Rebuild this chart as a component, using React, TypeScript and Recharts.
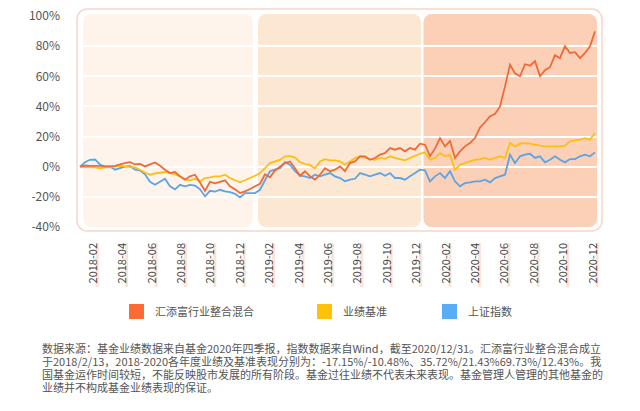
import React from "react";
import { LineChart, Line, XAxis, YAxis, ReferenceArea } from "recharts";

// weekly-ish samples, 2018-02-13 .. 2020-12-31 (104 points)
const fundValues = [
  0, 0.8, 0.5, 0.5, 0.5, 0.3, 0.2, 0.5, 1.5, 2.4, 3.0, 1.5, 1.8, 0.2, 1.5, 2.8,
  0.6, -2, -4.2, -3.5, -6.4, -8.6, -6.4, -5.3, -10.5, -16, -10, -11, -10, -9,
  -13, -15, -17.5, -16.4, -14.8, -13, -11.3, -5, -7, -2.5, 0, 2.4, 3.5, -1, -6,
  -3, -6.4, -8.6, -5.3, -1, -3, -2, 0.2, -3, 2.4, 3.5, 6.9, 6.9, 4.6, 5.8, 8, 9,
  12.4, 11.3, 12.4, 10.2, 12.4, 11.3, 15.3, 14.6, 7, 12, 19, 13.5, 17, 5.8,
  10.2, 13.5, 15.7, 19, 26, 29.5, 33.5, 35, 40, 53.3, 67.7, 62, 60, 68, 67, 70,
  60, 64, 66, 74, 72, 80, 75.5, 76, 72.1, 75.5, 79.9, 89.8,
];

const benchValues = [
  0, -0.2, -0.3, -0.5, -1, -0.5, -0.3, 0.2, 0.5, 0.2, -0.2, -0.5, -2, -4, -5.3,
  -4.5, -4, -3.5, -4.2, -5, -6.4, -8.6, -9, -8, -9.7, -7.5, -7, -6.4, -6.4,
  -5.3, -7.5, -9, -10.2, -9, -7.5, -6, -4.2, -1, 2.4, 3.5, 4.5, 6.9, 7, 6, 3,
  1.8, 1, -1, 3.5, 5, 4.2, 4.2, 3.5, 1.3, 3.5, 5.8, 6.9, 5.8, 5.1, 4.6, 5.8,
  5.2, 6.9, 5.8, 5.1, 4.2, 5.8, 7.3, 8.6, 9.5, 4.6, 5.8, 9, 6.9, 8, -2, 1.3,
  2.4, 3.5, 4.6, 5.1, 5.8, 4.6, 5.8, 6.9, 5.8, 15.7, 13.5, 15.3, 15.7, 15.3,
  14.6, 14, 13.5, 13.5, 13.5, 13.5, 14, 16.8, 17.5, 18, 19, 18, 22.4,
];

const indexValues = [
  0, 3, 4.6, 4.8, 1.5, 0, 0.2, -2, -1, 0, 0.5, -2, -2.5, -5, -10, -12, -10, -8,
  -13, -15, -12, -13, -12, -12.5, -15, -19.7, -16, -16.5, -15.3, -16.4, -16.8,
  -18, -20.4, -17.5, -17.5, -17.5, -15.3, -9, -3, -2, -1, 3, 1.3, -3, -6,
  -6.4, -7.5, -5.3, -6.4, -5.3, -4.2, -6.4, -7.5, -9.7, -8.6, -8, -4.2, -5.3,
  -6.4, -5.3, -4.2, -6, -4.2, -7.5, -7.5, -8.6, -6.4, -4.2, -2, -2.4, -9.7,
  -6.4, -4.2, -7.5, -3, -9.7, -13, -10.8, -10.4, -9.7, -9.7, -8.6, -10.4, -7.5,
  -6.4, -5.3, 8, 2.4, 6.9, 8, 8.6, 5.8, 6.9, 2.9, 4.6, 6.9, 4.6, 2.9, 5.1, 5.1,
  6.9, 8, 6.9, 9.5,
];

const monthLabels = [
  "2018-02", "2018-04", "2018-06", "2018-08", "2018-10", "2018-12",
  "2019-02", "2019-04", "2019-06", "2019-08", "2019-10", "2019-12",
  "2020-02", "2020-04", "2020-06", "2020-08", "2020-10", "2020-12",
];

const yTicks = [-40, -20, 0, 20, 40, 60, 80, 100];
const gridValues = [-20, 0, 20, 40, 60, 80];

// year panels in sample-index units
const BAND_TOP = 101.3;
const BAND_BOTTOM = -40;
const yearBands = [
  { x1: 0.6, x2: 34.6, fill: "#fef4ec" },
  { x1: 35.6, x2: 68.2, fill: "#fce7d3" },
  { x1: 68.7, x2: 103.4, fill: "#fbd0b7" },
];

const seriesNames = ["汇添富行业整合混合", "业绩基准", "上证指数"];
const lineColors = ["#ef6a3b", "#fbbf15", "#5ba4e5"];
const legendColors = ["#fd6a35", "#fec20c", "#5aacf5"];

const footnote = [
  "数据来源：基金业绩数据来自基金2020年四季报，指数数据来自Wind，截至2020/12/31。汇添富行业整合混合成立",
  "于2018/2/13，2018-2020各年度业绩及基准表现分别为：-17.15%/-10.48%、35.72%/21.43%69.73%/12.43%。我",
  "国基金运作时间较短，不能反映股市发展的所有阶段。基金过往业绩不代表未来表现。基金管理人管理的其他基金的",
  "业绩并不构成基金业绩表现的保证。",
];

const data = fundValues.map((v, i) => ({
  i,
  fund: v,
  bench: benchValues[i],
  index: indexValues[i],
}));

const tickPos = monthLabels.map((_, k) => 2.54 + k * 5.88);

const FONT = '"Noto Sans CJK SC", "Noto Sans", sans-serif';

function XTick(props: any) {
  const { x, y, payload } = props;
  const k = tickPos.findIndex((t) => Math.abs(t - payload.value) < 0.01);
  return (
    <g transform={`translate(${x},${y})`}>
      <rect x={3} y={0} width={3} height={44} fill="#fde3d6" />
      <text
        transform="rotate(-90)"
        textAnchor="end"
        dy={4}
        fontSize={11}
        fill="#444"
        fontFamily={FONT}
      >
        {monthLabels[k]}
      </text>
    </g>
  );
}

const outerShape = (p: any) => (
  <rect
    x={p.x}
    y={p.y}
    width={p.width}
    height={p.height}
    rx={10}
    fill="#fff"
    stroke="#f7d6c9"
    strokeWidth={1.5}
  />
);

// year panel with the white grid lines drawn on top of it
const bandShape = (fill: string) => (p: any) => {
  const perUnit = p.height / (BAND_TOP - BAND_BOTTOM);
  return (
    <g>
      <rect x={p.x} y={p.y} width={p.width} height={p.height} rx={8} fill={fill} />
      {gridValues.map((v) => {
        const gy = Math.round(p.y + (BAND_TOP - v) * perUnit);
        return (
          <line
            key={v}
            x1={p.x}
            x2={p.x + p.width}
            y1={gy}
            y2={gy}
            stroke="#ffffff"
            strokeWidth={2}
          />
        );
      })}
    </g>
  );
};

export default function App() {
  return (
    <div
      style={{
        position: "absolute",
        left: 0,
        top: 0,
        width: 640,
        height: 411,
        background: "#fff",
        fontFamily: FONT,
        overflow: "hidden",
      }}
    >
      <LineChart
        width={640}
        height={300}
        data={data}
        margin={{ top: 9, right: 38, bottom: 0, left: 0 }}
      >
        <XAxis
          type="number"
          dataKey="i"
          domain={[-0.6, 104.4]}
          ticks={tickPos}
          interval={0}
          axisLine={false}
          tickLine={false}
          tickSize={6}
          tickMargin={6}
          height={69}
          tick={<XTick />}
        />
        <YAxis
          type="number"
          domain={[-42.65, 104.64]}
          ticks={yTicks}
          interval={0}
          allowDataOverflow
          axisLine={false}
          tickLine={false}
          tickSize={6}
          tickMargin={11}
          width={77}
          tickFormatter={(v) => `${v}%`}
          tick={{ fontSize: 12, fill: "#555", fontFamily: FONT }}
        />
        <ReferenceArea
          x1={-0.6}
          x2={104.4}
          y1={-42.65}
          y2={104.64}
          ifOverflow="visible"
          shape={outerShape}
        />
        {yearBands.map((b, k) => (
          <ReferenceArea
            key={k}
            x1={b.x1}
            x2={b.x2}
            y1={BAND_BOTTOM}
            y2={BAND_TOP}
            ifOverflow="visible"
            shape={bandShape(b.fill)}
          />
        ))}
        <Line
          dataKey="index"
          stroke={lineColors[2]}
          strokeWidth={1.8}
          dot={false}
          isAnimationActive={false}
        />
        <Line
          dataKey="bench"
          stroke={lineColors[1]}
          strokeWidth={1.8}
          dot={false}
          isAnimationActive={false}
        />
        <Line
          dataKey="fund"
          stroke={lineColors[0]}
          strokeWidth={1.8}
          dot={false}
          isAnimationActive={false}
        />
      </LineChart>

      {/* legend */}
      {seriesNames.map((name, k) => {
        const left = [129, 317, 442][k];
        return (
          <div key={name}>
            <div
              style={{
                position: "absolute",
                left,
                top: 304,
                width: 15,
                height: 15,
                background: legendColors[k],
              }}
            />
            <div
              style={{
                position: "absolute",
                left: left + 26,
                top: 303,
                fontSize: 11,
                lineHeight: "17px",
                color: "#555",
                whiteSpace: "nowrap",
              }}
            >
              {name}
            </div>
          </div>
        );
      })}

      <div
        style={{
          position: "absolute",
          left: 42,
          top: 342,
          fontSize: 11,
          lineHeight: "13px",
          color: "#555",
        }}
      >
        {footnote.map((line, k) => (
          <div key={k} style={{ whiteSpace: "nowrap", height: 13 }}>
            {line}
          </div>
        ))}
      </div>
    </div>
  );
}
